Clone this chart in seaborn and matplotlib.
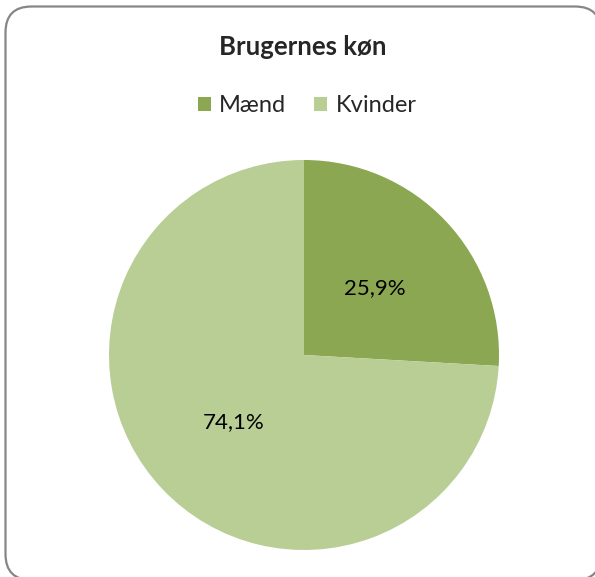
import matplotlib
matplotlib.use("Agg")
import matplotlib.pyplot as plt
import seaborn as sns
from matplotlib.patches import FancyBboxPatch, Patch

# data
categories = ["Mænd", "Kvinder"]
shares = [25.9, 74.1]
colors = ["#8BA752", "#B9CE95"]
title = "Brugernes køn"

sns.set_theme(style="white")
plt.rcParams["font.family"] = ["Lato", "DejaVu Sans"]

W, H = 595, 577
fig = plt.figure(figsize=(W / 100, H / 100), dpi=100, facecolor="white")

# rounded chart border in pixels (runs off the right and bottom edges, as in the original)
# white fill keeps Agg from clipping the outline along the canvas edge
bg = fig.add_axes([0, 0, 1, 1])
bg.set_xlim(0, W)
bg.set_ylim(H, 0)
bg.axis("off")
bx0, by0, bx1, by1 = 5.5, 6.5, 601, 580
border = FancyBboxPatch((bx0, by0), bx1 - bx0, by1 - by0,
                        boxstyle="round,pad=0,rounding_size=26",
                        facecolor="white", edgecolor="#868686", linewidth=1.6)
bg.add_patch(border)

# pie axes: center (304, 355) px, radius 195 px
cx, cy, r = 304, 355, 195
ax = fig.add_axes([(cx - r) / W, (H - cy - r) / H, 2 * r / W, 2 * r / H])
wedges, texts, autotexts = ax.pie(
    shares, colors=colors, startangle=90, counterclock=False,
    autopct=lambda p: f"{p:.1f}%".replace(".", ","), pctdistance=0.5,
    wedgeprops=dict(linewidth=0), textprops=dict(fontsize=16, color="black"))
ax.set_xlim(-1, 1)
ax.set_ylim(-1, 1)
ax.set_aspect("equal")
ax.axis("off")

fig.text(303 / W, 1 - 47 / H, title, ha="center", va="center",
         fontsize=18.5, fontweight="bold")

handles = [Patch(facecolor=c, edgecolor="none") for c in colors]
fig.legend(handles, categories, loc="center", bbox_to_anchor=(307 / W, 1 - 106 / H),
           ncol=2, frameon=False, fontsize=17, handlelength=0.55, handleheight=0.55,
           handletextpad=0.35, columnspacing=1.2)

fig.savefig("out.png", dpi=100)
plt.close()
